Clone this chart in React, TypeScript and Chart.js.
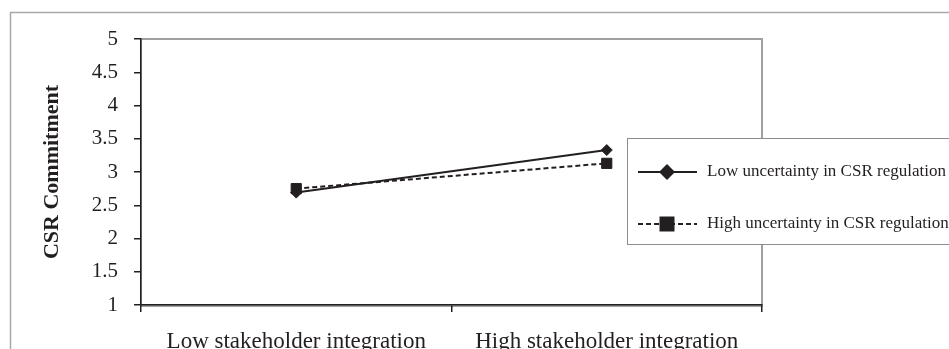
import React, { useEffect, useRef } from 'react';
import { Chart, registerables } from 'chart.js';

Chart.register(...registerables);

const categories = ['Low stakeholder integration', 'High stakeholder integration'];
const seriesNames = ['Low uncertainty in CSR regulation', 'High uncertainty in CSR regulation'];
const lowUncertainty = [2.69, 3.33];
const highUncertainty = [2.75, 3.13];
const yTitle = 'CSR Commitment';
const yMin = 1;
const yMax = 5;
const yStep = 0.5;

const INK = '#231f20';
const SERIF = "'Liberation Serif', 'Times New Roman', serif";

const framePlugin = {
  id: 'frame',
  beforeDraw(chart: any) {
    const { ctx, chartArea } = chart;
    ctx.save();
    // outer chart border
    ctx.strokeStyle = '#a8a8a8';
    ctx.lineWidth = 1.5;
    ctx.beginPath();
    ctx.moveTo(10.5, 400);
    ctx.lineTo(10.5, 12.5);
    ctx.lineTo(1000, 12.5);
    ctx.stroke();
    // plot area border
    ctx.strokeStyle = '#a0a0a0';
    ctx.lineWidth = 2;
    ctx.strokeRect(chartArea.left, chartArea.top, chartArea.right - chartArea.left, chartArea.bottom - chartArea.top + 1);
    ctx.restore();
  },
};

const legendPlugin = {
  id: 'boxLegend',
  afterDraw(chart: any) {
    const { ctx, chartArea } = chart;
    const x0 = chartArea.right - 135;
    const y0 = 138;
    ctx.save();
    ctx.fillStyle = '#ffffff';
    ctx.fillRect(x0, y0, 400, 106);
    ctx.strokeStyle = '#8c8c8c';
    ctx.lineWidth = 1;
    ctx.strokeRect(x0 + 0.5, y0 + 0.5, 400, 106);
    chart.data.datasets.forEach((ds: any, i: number) => {
      const cy = y0 + 34 + i * 52;
      ctx.strokeStyle = ds.borderColor;
      ctx.lineWidth = 2;
      ctx.setLineDash(ds.borderDash || []);
      ctx.beginPath();
      ctx.moveTo(x0 + 11, cy);
      ctx.lineTo(x0 + 70, cy);
      ctx.stroke();
      ctx.setLineDash([]);
      ctx.fillStyle = ds.backgroundColor;
      const mx = x0 + 40;
      ctx.beginPath();
      if (ds.pointStyle === 'rectRot') {
        const r = 8;
        ctx.moveTo(mx - r, cy);
        ctx.lineTo(mx, cy - r);
        ctx.lineTo(mx + r, cy);
        ctx.lineTo(mx, cy + r);
        ctx.closePath();
      } else {
        const h = 7.5;
        ctx.rect(mx - h, cy - h, 2 * h, 2 * h);
      }
      ctx.fill();
      ctx.fillStyle = INK;
      ctx.font = `17px ${SERIF}`;
      ctx.textBaseline = 'middle';
      ctx.textAlign = 'left';
      ctx.fillText(ds.label, x0 + 80, cy);
    });
    ctx.restore();
  },
};

export default function App() {
  const ref = useRef<HTMLCanvasElement>(null);
  useEffect(() => {
    document.body.style.margin = '0';
    document.body.style.overflow = 'hidden';
    const chart = new Chart(ref.current as HTMLCanvasElement, {
      type: 'line',
      data: {
        labels: categories,
        datasets: [
          {
            label: seriesNames[0],
            data: lowUncertainty,
            borderColor: INK,
            backgroundColor: INK,
            borderWidth: 2,
            pointStyle: 'rectRot',
            pointRadius: 5.5,
            pointBorderWidth: 1,
            tension: 0,
          },
          {
            label: seriesNames[1],
            data: highUncertainty,
            borderColor: INK,
            backgroundColor: INK,
            borderWidth: 2,
            borderDash: [5, 3],
            pointStyle: 'rect',
            pointRadius: 7.2,
            pointBorderWidth: 1,
            tension: 0,
          },
        ],
      },
      options: {
        responsive: false,
        animation: false,
        layout: { padding: { left: 0, top: 39, right: 187, bottom: 0 } },
        plugins: {
          legend: { display: false },
          tooltip: { enabled: false },
        },
        scales: {
          x: {
            type: 'category',
            offset: true,
            grid: { drawOnChartArea: false, drawTicks: true, tickLength: 7, color: INK, offset: true, lineWidth: 1.5 },
            border: { display: true, color: INK, width: 1.5 },
            ticks: { color: INK, font: { family: SERIF, size: 23 }, padding: 16, maxRotation: 0, autoSkip: false },
            afterFit(scale: any) {
              scale.height = 44;
              scale.paddingLeft = 0;
              scale.paddingRight = 0;
            },
          },
          y: {
            min: yMin,
            max: yMax,
            grid: { drawOnChartArea: false, drawTicks: true, tickLength: 7, color: INK, lineWidth: 1.5 },
            border: { display: true, color: INK, width: 1.5 },
            ticks: {
              stepSize: yStep,
              color: INK,
              font: { family: SERIF, size: 21 },
              padding: 16,
              callback: (v: any) => String(Number(v)),
            },
            title: {
              display: true,
              text: yTitle,
              color: INK,
              font: { family: SERIF, size: 22, weight: 'bold' },
              padding: { top: 39, bottom: 0 },
            },
            afterFit(scale: any) {
              scale.width = 141;
              scale.paddingTop = 0;
              scale.paddingBottom = 0;
            },
          },
        },
      },
      plugins: [framePlugin, legendPlugin],
    });
    return () => chart.destroy();
  }, []);
  return <canvas ref={ref} width={949} height={349} style={{ display: 'block' }} />;
}
